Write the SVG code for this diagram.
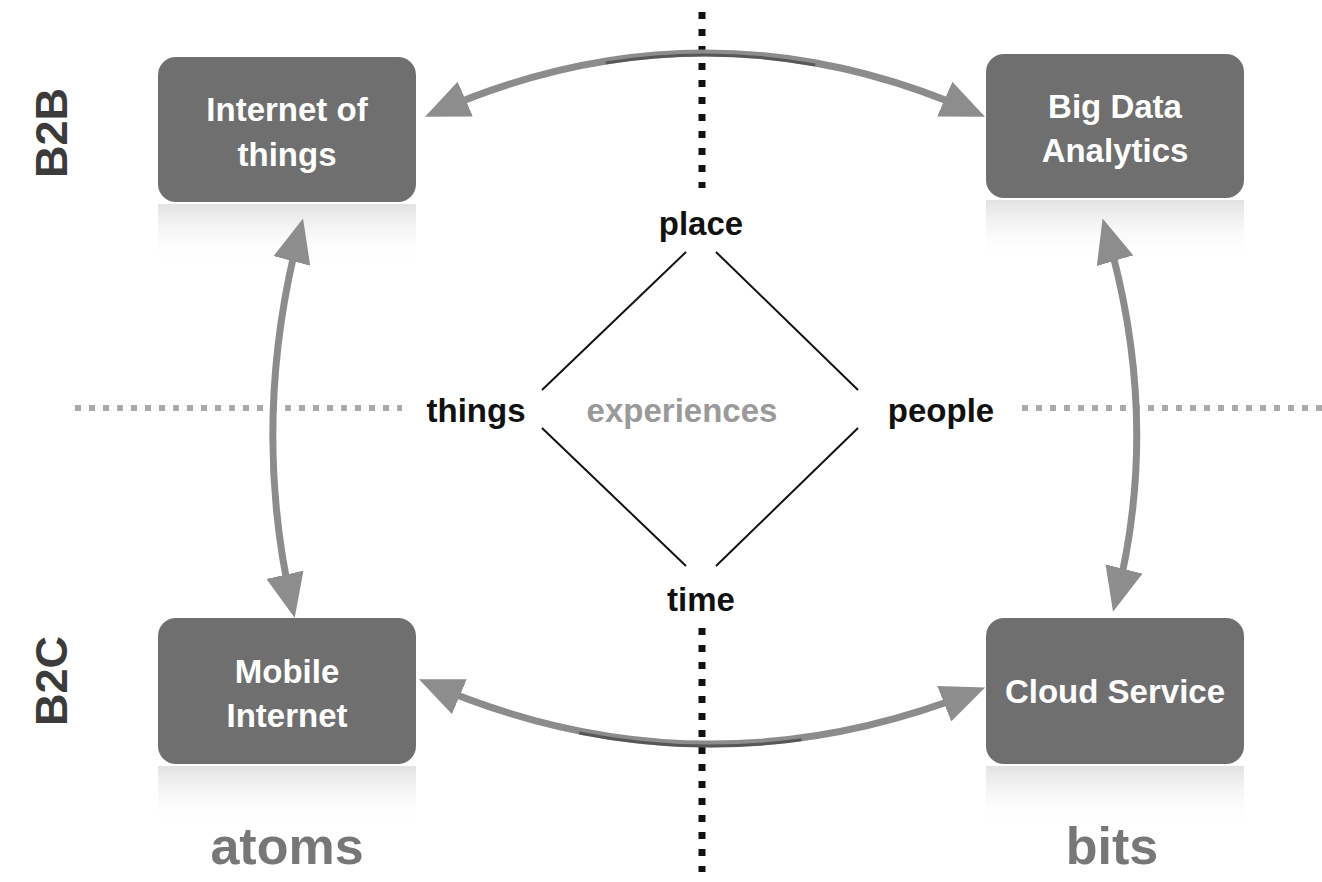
<svg xmlns="http://www.w3.org/2000/svg" width="1322" height="882" viewBox="0 0 1322 882">
<style>
.node rect.box{fill:#6f6f6f;}
.nt{font-family:"Liberation Sans",Arial,sans-serif;font-weight:bold;font-size:33px;fill:#fff;text-anchor:middle;}
.lbl{font-family:"Liberation Sans",Arial,sans-serif;font-weight:bold;font-size:33px;fill:#111;text-anchor:middle;}
.side{font-family:"Liberation Sans",Arial,sans-serif;font-weight:bold;font-size:45px;fill:#3b3b3b;text-anchor:middle;}
.big{font-family:"Liberation Sans",Arial,sans-serif;font-weight:bold;font-size:52px;fill:#777;text-anchor:middle;}
.arc{fill:none;stroke:#8c8c8c;stroke-width:7;stroke-linecap:round;}
.arcs{fill:none;stroke:#333;stroke-width:3;opacity:0.6;}
.dia{stroke:#111;stroke-width:2;}
</style>
<defs>
<linearGradient id="refl" x1="0" y1="0" x2="0" y2="1">
<stop offset="0" stop-color="#d6d6d6" stop-opacity="0.7"/>
<stop offset="0.6" stop-color="#f4f4f4" stop-opacity="0.4"/>
<stop offset="1" stop-color="#fff" stop-opacity="0"/>
</linearGradient>
<marker id="ah" viewBox="0 0 44 38" refX="32" refY="19" markerWidth="44" markerHeight="38" markerUnits="userSpaceOnUse" orient="auto-start-reverse">
<path d="M0,0 L44,19 L0,38 Z" fill="#8d8d8d"/>
</marker>
</defs>
<rect width="1322" height="882" fill="#fff"/>

<!-- side labels -->
<text class="side" transform="translate(51,133) rotate(-90)" dy="16">B2B</text>
<text class="side" transform="translate(51,681) rotate(-90)" dy="16">B2C</text>
<text class="big" x="287" y="864">atoms</text>
<text class="big" x="1112" y="864">bits</text>

<!-- axis lines -->
<g id="axes">
<line x1="702" y1="12" x2="702" y2="188" stroke="#111" stroke-width="7" stroke-dasharray="7,10"/>
<line x1="702" y1="628" x2="702" y2="872" stroke="#111" stroke-width="7" stroke-dasharray="7,10"/>
<line x1="75" y1="408" x2="402" y2="408" stroke="#aaa" stroke-width="6" stroke-dasharray="6,8"/>
<line x1="1022" y1="408" x2="1322" y2="408" stroke="#aaa" stroke-width="6" stroke-dasharray="6,8"/>
</g>

<!-- diamond -->
<g id="diamond">
<line class="dia" x1="686" y1="252" x2="542" y2="390"/>
<line class="dia" x1="716" y1="252" x2="858" y2="390"/>
<line class="dia" x1="542" y1="428" x2="686" y2="566"/>
<line class="dia" x1="858" y1="428" x2="716" y2="566"/>
<text class="lbl" x="701" y="235">place</text>
<text class="lbl" x="476" y="422">things</text>
<text class="lbl" x="682" y="422" style="fill:#9a9a9a">experiences</text>
<text class="lbl" x="941" y="422">people</text>
<text class="lbl" x="701" y="611">time</text>
</g>

<!-- nodes -->
<g id="iot" class="node">
<rect x="158" y="204" width="258" height="60" fill="url(#refl)"/>
<rect class="box" x="158" y="57" width="258" height="145" rx="18"/>
<text class="nt" x="287" y="121">Internet of</text>
<text class="nt" x="287" y="166">things</text>
</g>
<g id="bigdata" class="node">
<rect x="986" y="200" width="258" height="60" fill="url(#refl)"/>
<rect class="box" x="986" y="54" width="258" height="144" rx="18"/>
<text class="nt" x="1115" y="118">Big Data</text>
<text class="nt" x="1115" y="162">Analytics</text>
</g>
<g id="mobile" class="node">
<rect x="158" y="766" width="258" height="60" fill="url(#refl)"/>
<rect class="box" x="158" y="618" width="258" height="146" rx="18"/>
<text class="nt" x="287" y="683">Mobile</text>
<text class="nt" x="287" y="727">Internet</text>
</g>
<g id="cloud" class="node">
<rect x="986" y="766" width="258" height="60" fill="url(#refl)"/>
<rect class="box" x="986" y="618" width="258" height="146" rx="18"/>
<text class="nt" x="1115" y="703">Cloud Service</text>
</g>

<!-- connectors -->
<g id="connectors">
<path class="arc" d="M436,112 Q705,-6 974,112" marker-start="url(#ah)" marker-end="url(#ah)"/>
<path class="arcs" d="M436,114 Q705,-4 974,114" pathLength="100" stroke-dasharray="0 32 38 100"/>
<path class="arc" d="M300,230 Q250,420 292,606" marker-start="url(#ah)" marker-end="url(#ah)"/>
<path class="arc" d="M1106,230 Q1162,420 1116,600" marker-start="url(#ah)" marker-end="url(#ah)"/>
<path class="arc" d="M430,684 Q700,800 974,692" marker-start="url(#ah)" marker-end="url(#ah)"/>
<path class="arcs" d="M430,686 Q700,802 974,694" pathLength="100" stroke-dasharray="0 28 40 100"/>
</g>
</svg>
